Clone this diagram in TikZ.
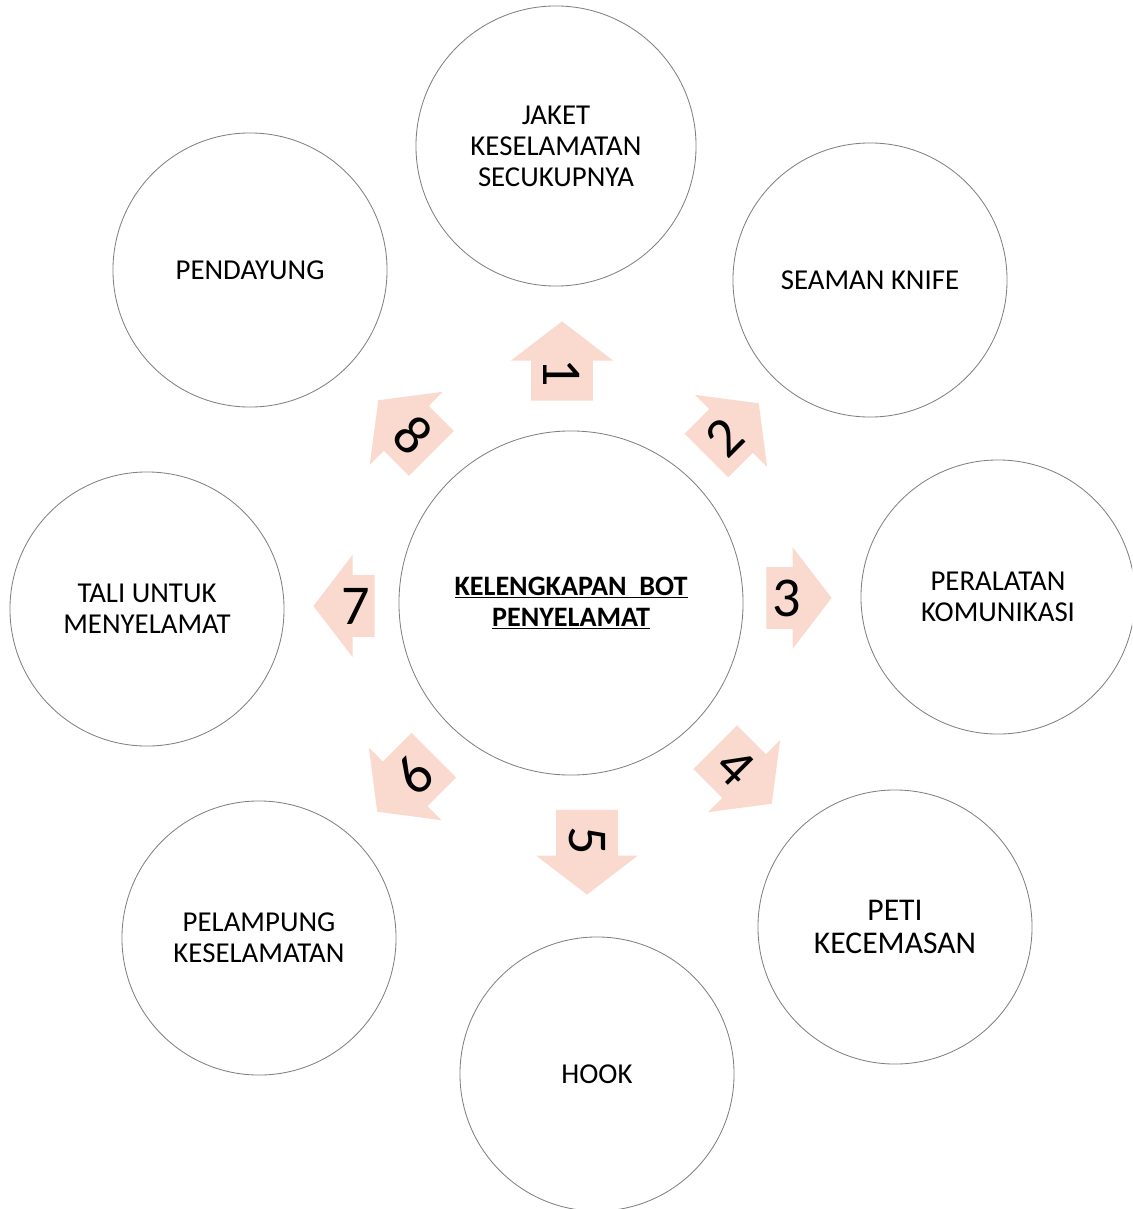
\documentclass[tikz,border=0pt]{standalone}
\usepackage{fontspec}
\setmainfont{Carlito}
\usepackage{graphicx}
\usetikzlibrary{shapes.arrows}
\definecolor{pinkfill}{RGB}{250,218,206}
\definecolor{ringgray}{RGB}{128,128,128}

\begin{document}
\begin{tikzpicture}[x=0.025cm,y=-0.025cm,
  item/.style={circle, draw=ringgray, line width=0.6pt, minimum size=6.85cm, inner sep=0pt, align=center, font=\fontsize{20.5}{22}\selectfont},
  pointer/.style={single arrow, anchor=tip, fill=pinkfill, minimum width=2.55cm, single arrow head extend=0.5cm, single arrow tip angle=105, inner xsep=0pt, inner ysep=8.6pt, font=\fontsize{40}{40}\selectfont}]
\useasboundingbox (0,0) rectangle (1132,1209);
\clip (0,0) rectangle (1132,1209);

\node[item, minimum size=8.6cm, font=\fontsize{20}{22}\selectfont\bfseries] (0) at (571,603) {\underline{KELENGKAPAN\ \ BOT}\\\underline{PENYELAMAT}};
\node[item, minimum size=7cm] (1) at (556,146) {JAKET\\KESELAMATAN\\SECUKUPNYA};
\node[item] (2) at (870,280) {SEAMAN KNIFE};
\node[item] (3) at (998,597) {PERALATAN\\KOMUNIKASI};
\node[item, font=\fontsize{22.5}{24}\selectfont] (4) at (895,927) {PETI\\KECEMASAN};
\node[item] (5) at (597,1074) {HOOK};
\node[item] (6) at (259,938) {PELAMPUNG\\KESELAMATAN};
\node[item] (7) at (147,609) {TALI UNTUK\\MENYELAMAT};
\node[item] (8) at (250,270) {PENDAYUNG};

% arrows round the hub, placed by their tips
\node[pointer, rotate=90, minimum height=1.98cm] (a1) at (562,321) {\rotatebox[origin=c]{180}{1}};
\node[pointer, rotate=45, minimum height=1.85cm] (a2) at (759,403) {2};
\node[pointer, rotate=0, minimum height=1.63cm] (a3) at (832,598) {3};
\node[pointer, rotate=-45, minimum height=2cm] (a4) at (772,804) {4};
\node[pointer, rotate=-90, minimum height=2.12cm] (a5) at (587,895) {5};
\node[pointer, rotate=-135, minimum height=2cm] (a6) at (377,812) {\rotatebox[origin=c]{180}{6}};
\node[pointer, rotate=180, minimum height=1.53cm] (a7) at (313,606) {\rotatebox[origin=c]{180}{7}};
\node[pointer, rotate=135, minimum height=1.88cm] (a8) at (378,400) {\rotatebox[origin=c]{180}{8}};
\end{tikzpicture}
\end{document}
